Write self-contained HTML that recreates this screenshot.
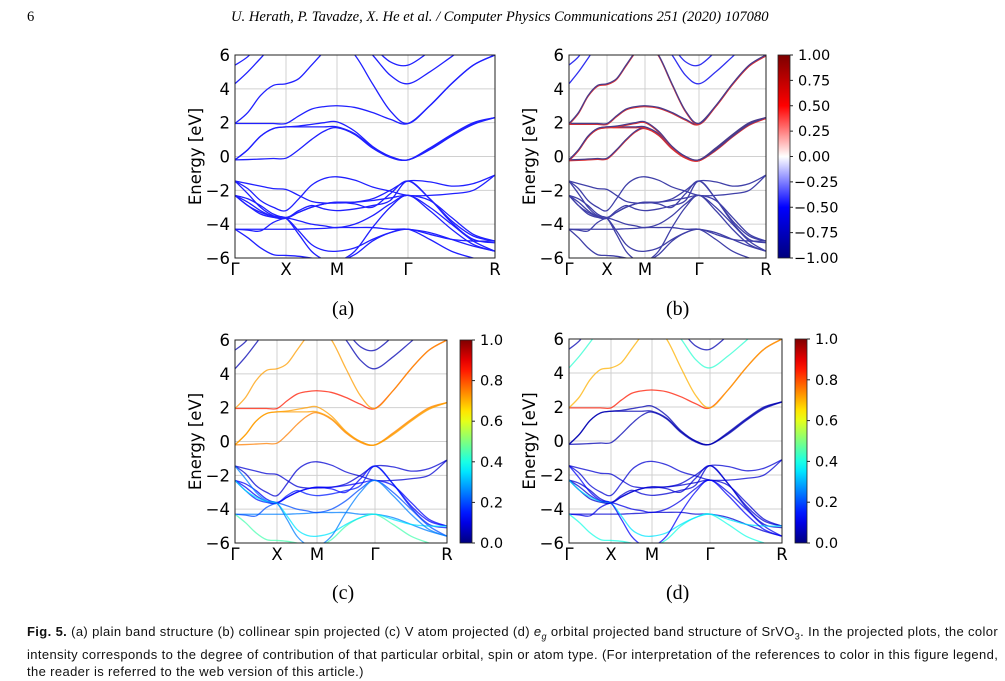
<!DOCTYPE html>
<html><head><meta charset="utf-8"><style>
body{margin:0;background:#fff;width:1005px;height:681px;overflow:hidden;position:relative;font-family:"Liberation Sans",sans-serif}
.hdr{position:absolute;top:9px;font-family:"Liberation Serif",serif;font-size:14.6px}
.cap{position:absolute;font-family:"Liberation Serif",serif;font-size:20px}
.fig{position:absolute;left:27px;top:623px;width:990px;font-size:13px;letter-spacing:0.37px;line-height:17px;color:#111;white-space:nowrap}
svg{position:absolute;left:0;top:0}
</style></head><body>
<div class="hdr" style="left:27px">6</div>
<div class="hdr" style="left:231px;font-style:italic">U. Herath, P. Tavadze, X. He et al. / Computer Physics Communications 251 (2020) 107080</div>
<div class="cap" style="left:332px;top:298px">(a)</div>
<div class="cap" style="left:666px;top:298px">(b)</div>
<div class="cap" style="left:332px;top:582px">(c)</div>
<div class="cap" style="left:666px;top:582px">(d)</div>
<div class="fig"><b>Fig. 5.</b> (a) plain band structure (b) collinear spin projected (c) V atom projected (d) <i>e<sub style="font-size:9px">g</sub></i> orbital projected band structure of SrVO<sub style="font-size:9px">3</sub>. In the projected plots, the color<br>intensity corresponds to the degree of contribution of that particular orbital, spin or atom type. (For interpretation of the references to color in this figure legend,<br>the reader is referred to the web version of this article.)</div>
<svg id="s" width="1005" height="681" xmlns="http://www.w3.org/2000/svg"></svg>
<script>
// k-path labels and energy ticks
const kLabels=["Γ","X","M","Γ","R"];
const yTicks=[6,4,2,0,-2,-4,-6];
// energies at 17 k samples (Γ..X..M..Γ..R, 4 steps per segment)
const bandC1=[-0.2,-0.18,-0.15,-0.12,-0.1, 0.4,1.0,1.5,1.7, 1.3,0.5,-0.05,-0.2, 0.5,1.3,2.0,2.3];
const bandC2=[-0.2,0.4,1.2,1.65,1.75, 1.75,1.75,1.75,1.75, 1.35,0.55,0,-0.2, 0.45,1.25,1.95,2.3];
const bandC3=[-0.2,0.4,1.2,1.65,1.75, 1.8,1.9,2.0,2.05, 1.5,0.6,0,-0.2, 0.4,1.2,1.9,2.3];
const bandC4=[1.95,1.95,1.95,1.95,1.95, 2.4,2.8,2.95,3.0, 2.9,2.6,2.2,1.95, 3.0,4.3,5.4,6.0];
const bandC5=[1.95,2.6,3.6,4.2,4.3, 4.6,5.4,6.2,6.8, 6.0,4.3,2.7,1.95, 3.0,4.3,5.4,6.0];
const bandC6=[4.3,5.0,5.8,6.6,7.0, 7.2,7.4,7.5,7.5, 7.0,6.0,4.8,4.3, 5.0,5.9,6.8,7.5];
const bandC7=[5.4,5.9,6.7,7.2,7.5, 7.5,7.5,7.5,7.5, 7.2,6.5,5.6,5.4, 6.2,7.0,7.5,7.5];
const bandV1=[-1.45,-1.6,-1.75,-1.9,-1.95, -2.3,-2.65,-2.75,-2.75, -2.7,-2.5,-2.0,-1.45, -1.5,-1.75,-1.6,-1.1];
const bandV2=[-1.45,-1.9,-2.6,-3.0,-3.2, -2.5,-1.7,-1.3,-1.2, -1.4,-1.8,-2.05,-2.3, -2.3,-2.2,-2.0,-1.1];
const bandV3=[-2.3,-2.5,-2.9,-3.4,-3.6, -3.3,-3.0,-2.8,-2.7, -2.8,-3.0,-2.2,-1.45, -2.5,-3.8,-4.7,-5.0];
const bandV4=[-2.3,-2.7,-3.2,-3.55,-3.65, -3.3,-3.0,-2.8,-2.7, -2.7,-2.6,-2.45,-2.3, -2.6,-3.6,-4.6,-5.0];
const bandV5=[-2.3,-2.9,-3.4,-3.6,-3.65, -3.2,-2.9,-3.1,-3.2, -3.1,-2.9,-2.6,-1.45, -2.5,-3.9,-4.9,-5.1];
const bandV6=[-4.3,-4.3,-4.3,-4.3,-4.3, -4.3,-4.27,-4.25,-4.2, -4.2,-4.2,-4.3,-4.3, -4.5,-4.9,-5.3,-5.6];
const bandV7=[-4.3,-4.35,-4.4,-3.9,-3.65, -3.8,-4.0,-4.1,-4.2, -4.0,-3.5,-2.8,-2.3, -3.0,-4.0,-5.0,-5.6];
const bandV8=[-4.3,-4.8,-5.4,-5.8,-5.85, -5.9,-6.0,-6.1,-6.2, -5.8,-5.0,-4.5,-4.3, -4.9,-5.6,-6.0,-6.3];
const bandV9=[-2.3,-2.9,-3.3,-3.55,-3.65, -4.4,-5.2,-5.55,-5.6, -5.4,-4.9,-4.5,-4.3, -4.6,-4.9,-5.0,-5.0];
const bandV10=[-1.45,-2.2,-3.0,-3.5,-3.65, -4.6,-5.6,-6.1,-6.2, -5.6,-4.2,-3.0,-2.3, -3.2,-4.3,-5.2,-5.6];
const bands=[bandC1,bandC2,bandC3,bandC4,bandC5,bandC6,bandC7,bandV1,bandV2,bandV3,bandV4,bandV5,bandV6,bandV7,bandV8,bandV9,bandV10];
// projections per band
const spinVals=[0,0,0,0,0,-0.6,-0.6,-0.8,-0.8,-0.8,-0.8,-0.8,-0.8,-0.8,-0.8,-0.8,-0.8];
const vAtomVals=[0.75,0.72,0.72,0.85,0.72,0.05,0.05,0.08,0.08,0.12,0.12,0.15,0.25,0.2,0.45,0.35,0.25];
const egVals=[0.05,0.05,0.05,0.85,0.7,0.42,0.05,0.08,0.08,0.08,0.08,0.08,0.08,0.1,0.4,0.35,0.12];
const cbarTicksB=[1,0.75,0.5,0.25,0,-0.25,-0.5,-0.75,-1];
const cbarTicksCD=[1,0.8,0.6,0.4,0.2,0];

const S=document.getElementById('s');
const NS='http://www.w3.org/2000/svg';
function mk(t,a,p){const e=document.createElementNS(NS,t);for(const k in a)e.setAttribute(k,a[k]);(p||S).appendChild(e);return e;}
function jet(v){v=Math.max(0,Math.min(1,v));
 const r=Math.max(0,Math.min(1,1.5-Math.abs(4*v-3))),g=Math.max(0,Math.min(1,1.5-Math.abs(4*v-2))),b=Math.max(0,Math.min(1,1.5-Math.abs(4*v-1)));
 return `rgb(${r*255|0},${g*255|0},${b*255|0})`;}
function bwr(v){
 if(v<0){const t=-v; if(t<0.5){const s=t/0.5;return `rgb(${255*(1-s)|0},${255*(1-s)|0},255)`;} const s=(t-0.5)/0.5;return `rgb(0,0,${255-130*s|0})`;}
 const t=v; if(t<0.5){const s=t/0.5;return `rgb(255,${255*(1-s)|0},${255*(1-s)|0})`;} const s=(t-0.5)/0.5;return `rgb(${255-130*s|0},0,0)`;}
function pathD(pts){let d=`M${pts[0][0]},${pts[0][1]}`;
 for(let i=0;i<pts.length-1;i++){const p0=pts[i-1]||pts[i],p1=pts[i],p2=pts[i+1],p3=pts[i+2]||p2;
  d+=` C${p1[0]+(p2[0]-p0[0])/6},${p1[1]+(p2[1]-p0[1])/6} ${p2[0]-(p3[0]-p1[0])/6},${p2[1]-(p3[1]-p1[1])/6} ${p2[0]},${p2[1]}`;}
 return d;}
function panel(id,kx,y0,y1,mode,cb){
 const g=mk('g',{});  
 const ys=e=>y0+(6-e)/12*(y1-y0);
 const xs=i=>{const s=Math.floor(Math.min(i,15.999)/4),f=(i-4*s)/4;return kx[s]+f*(kx[s+1]-kx[s]);};
 yTicks.forEach(t=>{mk('line',{x1:kx[0],x2:kx[4],y1:ys(t),y2:ys(t),stroke:'#d0d0d0','stroke-width':1},g);
  const tx=mk('text',{x:kx[0]-5,y:ys(t)+6,'text-anchor':'end','font-size':16.5,'font-family':'DejaVu Sans, sans-serif'},g);tx.textContent=t<0?'−'+(-t):t;
  });
 kx.forEach((x,i)=>{mk('line',{x1:x,x2:x,y1:y0,y2:y1,stroke:'#d0d0d0','stroke-width':1},g);
  const tx=mk('text',{x:x,y:y1+17,'text-anchor':'middle','font-size':16.5,'font-family':'DejaVu Sans, sans-serif'},g);tx.textContent=kLabels[i];
  });
 const yl=mk('text',{x:0,y:0,transform:`translate(${kx[0]-34},${(y0+y1)/2}) rotate(-90)`,'text-anchor':'middle','font-size':16.5,'font-family':'DejaVu Sans, sans-serif'},g);
 yl.textContent='Energy [eV]';
 const cp=mk('clipPath',{id:'cp'+id},g);mk('rect',{x:kx[0],y:y0,width:kx[4]-kx[0],height:y1-y0},cp);
 const bg=mk('g',{'clip-path':`url(#cp${id})`},g);
 bands.forEach((b,bi)=>{const pts=b.map((e,i)=>[xs(i).toFixed(2),ys(e).toFixed(2)].map(Number));const d=pathD(pts);
  let col,op=1;
  if(mode==='a')col='#2020ff';
  else if(mode==='b'){const v=spinVals[bi]; if(Math.abs(v)<0.1){const r=mk('path',{d:d,fill:'none',stroke:'#e03030','stroke-width':1.4,transform:'translate(0,0.8)'},bg);col='#4a3c8c';} else col=v<-0.7?'#4040a8':'#3030f0';}
  else {col=jet(mode==='c'?vAtomVals[bi]:egVals[bi]);op=0.75;}
  const p=mk('path',{d:d,fill:'none',stroke:col,'stroke-width':1.3,'stroke-opacity':op},bg);
  });
 mk('rect',{x:kx[0],y:y0,width:kx[4]-kx[0],height:y1-y0,fill:'none',stroke:'#222','stroke-width':1},g);
 if(cb){const gid='gr'+id;const lg=mk('linearGradient',{id:gid,x1:0,y1:1,x2:0,y2:0},g);
  for(let i=0;i<=20;i++){const v=i/20;mk('stop',{offset:v,'stop-color':mode==='b'?bwr(2*v-1):jet(v)},lg);}
  const r=mk('rect',{x:cb[0],y:y0,width:cb[1],height:y1-y0,fill:`url(#${gid})`,stroke:'#222','stroke-width':0.8},g);
  
  const ticks=mode==='b'?cbarTicksB:cbarTicksCD;
  ticks.forEach(t=>{const f=mode==='b'?(t+1)/2:t;const y=y1-f*(y1-y0);
   mk('line',{x1:cb[0]+cb[1],x2:cb[0]+cb[1]+3,y1:y,y2:y,stroke:'#222'},g);
   const tx=mk('text',{x:cb[0]+cb[1]+(t<0?4:8),y:y+5,'font-size':14.5,'font-family':'DejaVu Sans, sans-serif'},g);
   tx.textContent=(t<0?'−':'')+(mode==='b'?Math.abs(t).toFixed(2):Math.abs(t).toFixed(1));
   });}
}
panel('a',[235,286,337,408,495],55,258,'a',null);
panel('b',[569,607,645,699,766],55,258,'b',[778,12]);
panel('c',[235,277,317,375,447],340,543,'c',[460,12]);
panel('d',[569,611,652,710,782],339,543,'d',[795,12]);
</script>
</body></html>
